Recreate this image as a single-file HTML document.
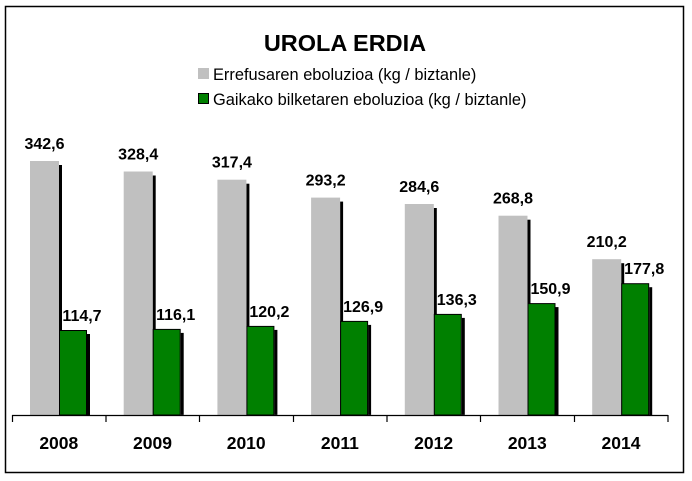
<!DOCTYPE html>
<html><head><meta charset="utf-8"><style>body{margin:0;background:#fff}svg{display:block}text{font-family:"Liberation Sans",Arial,sans-serif}</style></head>
<body>
<svg width="692" height="481" xmlns="http://www.w3.org/2000/svg">
<rect x="0" y="0" width="692" height="481" fill="#fff"/>
<rect x="5.5" y="6.5" width="678" height="466" fill="none" stroke="#000" stroke-width="1.5"/>
<text x="345" y="51" font-size="23.5" font-weight="bold" text-anchor="middle">UROLA ERDIA</text>
<rect x="198" y="68" width="11" height="11" fill="#c0c0c0"/>
<text x="213" y="80" font-size="16.4">Errefusaren eboluzioa (kg / biztanle)</text>
<rect x="198.5" y="93.5" width="10" height="10" fill="#008000" stroke="#000"/>
<text x="213" y="105" font-size="16.4">Gaikako bilketaren eboluzioa (kg / biztanle)</text>

<g fill="#000">
<rect x="59" y="165" width="3" height="250"/><rect x="152.7" y="175.5" width="3" height="240"/><rect x="246.4" y="183.7" width="3" height="232"/><rect x="340.1" y="201.6" width="3" height="214"/><rect x="433.8" y="208" width="3" height="207"/><rect x="527.5" y="219.7" width="3" height="196"/><rect x="621.2" y="263.2" width="3" height="152"/>
<rect x="87" y="334" width="3" height="81"/><rect x="180.7" y="332.9" width="3" height="82"/><rect x="274.4" y="329.9" width="3" height="85"/><rect x="368.1" y="324.9" width="3" height="90"/><rect x="461.8" y="317.9" width="3" height="97"/><rect x="555.5" y="307.1" width="3" height="108"/><rect x="649.2" y="287.2" width="3" height="128"/>
</g>
<g fill="#c0c0c0">
<rect x="30" y="161" width="29" height="254"/><rect x="123.7" y="171.5" width="29" height="243.5"/><rect x="217.4" y="179.7" width="29" height="235.3"/><rect x="311.1" y="197.6" width="29" height="217.4"/><rect x="404.8" y="204" width="29" height="211"/><rect x="498.5" y="215.7" width="29" height="199.3"/><rect x="592.2" y="259.2" width="29" height="155.8"/>
</g>
<g fill="#008000" stroke="#000" stroke-width="1">
<rect x="59.5" y="330.5" width="27" height="84.5"/><rect x="153.2" y="329.4" width="27" height="85.6"/><rect x="246.9" y="326.4" width="27" height="88.6"/><rect x="340.6" y="321.4" width="27" height="93.6"/><rect x="434.3" y="314.4" width="27" height="100.6"/><rect x="528" y="303.6" width="27" height="111.4"/><rect x="621.7" y="283.7" width="27" height="131.3"/>
</g>
<g font-size="16" font-weight="bold" text-anchor="middle">
<text x="44.5" y="149">342,6</text><text x="138.2" y="159.5">328,4</text><text x="231.9" y="167.7">317,4</text><text x="325.6" y="185.6">293,2</text><text x="419.3" y="192">284,6</text><text x="513" y="203.7">268,8</text><text x="606.7" y="247.2">210,2</text>
<text x="82" y="321">114,7</text><text x="175.7" y="319.9">116,1</text><text x="269.4" y="316.9">120,2</text><text x="363.1" y="311.9">126,9</text><text x="456.8" y="304.9">136,3</text><text x="550.5" y="294.1">150,9</text><text x="644.2" y="274.2">177,8</text>
</g>
<line x1="12" y1="415.5" x2="668" y2="415.5" stroke="#000" stroke-width="1.2"/>
<g stroke="#000" stroke-width="1.2">
<line x1="12.5" y1="415" x2="12.5" y2="422"/><line x1="106" y1="415" x2="106" y2="422"/><line x1="199.5" y1="415" x2="199.5" y2="422"/><line x1="293.5" y1="415" x2="293.5" y2="422"/><line x1="387" y1="415" x2="387" y2="422"/><line x1="480.5" y1="415" x2="480.5" y2="422"/><line x1="574.5" y1="415" x2="574.5" y2="422"/><line x1="668" y1="415" x2="668" y2="422"/>
</g>
<g font-size="17.5" font-weight="bold" text-anchor="middle">
<text x="58.8" y="449">2008</text><text x="152.5" y="449">2009</text><text x="246.2" y="449">2010</text><text x="339.9" y="449">2011</text><text x="433.6" y="449">2012</text><text x="527.3" y="449">2013</text><text x="621" y="449">2014</text>
</g>
</svg>
</body></html>
